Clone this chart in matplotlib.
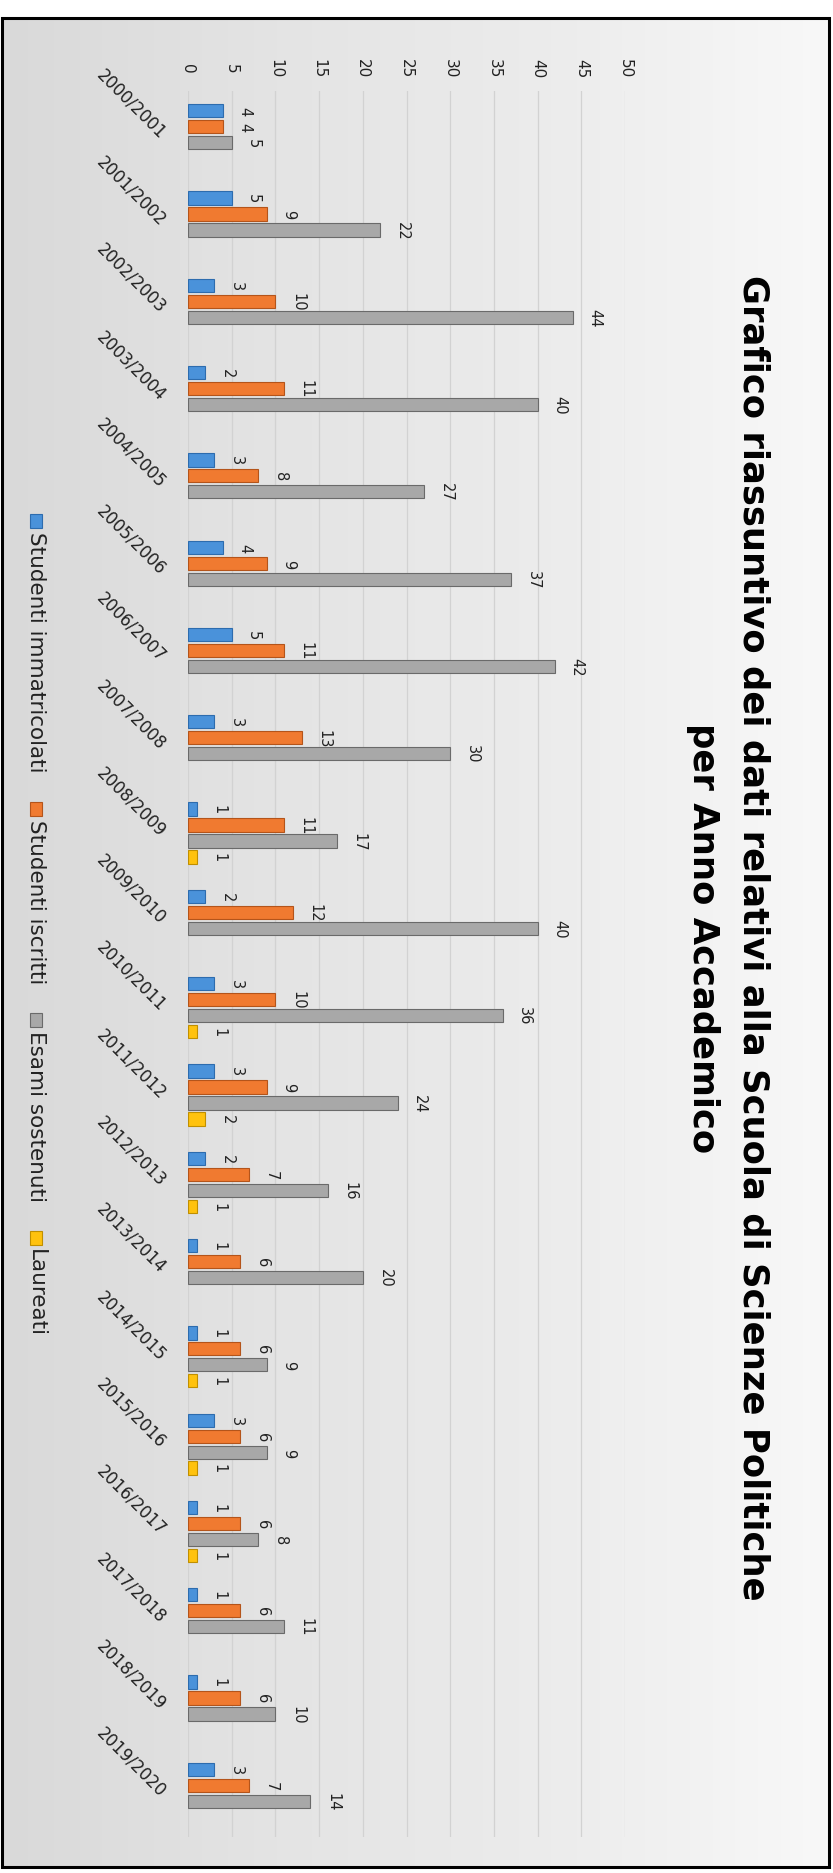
import numpy as np
import matplotlib.pyplot as plt
from matplotlib.patches import Rectangle
from matplotlib.colors import LinearSegmentedColormap

anni = ['2000/2001', '2001/2002', '2002/2003', '2003/2004', '2004/2005',
        '2005/2006', '2006/2007', '2007/2008', '2008/2009', '2009/2010',
        '2010/2011', '2011/2012', '2012/2013', '2013/2014', '2014/2015',
        '2015/2016', '2016/2017', '2017/2018', '2018/2019', '2019/2020']
immatricolati = [4, 5, 3, 2, 3, 4, 5, 3, 1, 2, 3, 3, 2, 1, 1, 3, 1, 1, 1, 3]
iscritti = [4, 9, 10, 11, 8, 9, 11, 13, 11, 12, 10, 9, 7, 6, 6, 6, 6, 6, 6, 7]
esami = [5, 22, 44, 40, 27, 37, 42, 30, 17, 40, 36, 24, 16, 20, 9, 9, 8, 11, 10, 14]
laureati = [None, None, None, None, None, None, None, None, 1, None,
            1, 2, 1, None, 1, 1, 1, None, None, None]

serie = ['Studenti immatricolati', 'Studenti iscritti', 'Esami sostenuti', 'Laureati']
colori = ['#4a92da', '#f07a30', '#a8a8a8', '#ffc20e']
bordi = ['#2d6cae', '#b4541a', '#6a6a6a', '#c08f00']

W, H = 833, 1874
fig = plt.figure(figsize=(W / 100, H / 100), dpi=100)
fig.patch.set_facecolor('white')

# sfondo sfumato dentro la cornice
bg = fig.add_axes([0.003, 0.003, 0.992, 0.986])
sfum = LinearSegmentedColormap.from_list('sfondo', ['#d9d9d9', '#e4e4e4', '#ececec', '#f8f8f8'])
bg.imshow(np.linspace(0, 1, 256).reshape(1, -1), aspect='auto', cmap=sfum, extent=[0, 1, 0, 1])
bg.axis('off')
fig.patches.append(Rectangle((0.0024, 0.0030), 0.9926, 0.9869, transform=fig.transFigure,
                             fill=False, ec='black', lw=2.2))

ax = fig.add_axes([188 / W, 1 - 1838 / H, (625 - 188) / W, (1838 - 92) / H])
ax.set_facecolor('none')

y = np.arange(len(anni))
slot = 0.183
alt = 0.152
for k, (vals, c, b) in enumerate(zip([immatricolati, iscritti, esami, laureati], colori, bordi)):
    yy = [y[i] + (k - 1.5) * slot for i, v in enumerate(vals) if v is not None]
    vv = [v for v in vals if v is not None]
    ax.barh(yy, vv, height=alt, color=c, edgecolor=b, linewidth=0.8, zorder=3)
    for yi, v in zip(yy, vv):
        ax.annotate(str(v), xy=(v, yi), xytext=(10.5, 0), textcoords='offset points',
                    rotation=-90, ha='left', va='center', fontsize=10.5, color='#222222')

ax.set_xlim(0, 50)
ax.set_ylim(len(anni) - 0.5, -0.5)
ax.set_xticks(range(0, 51, 5))
ax.xaxis.tick_top()
ax.tick_params(axis='x', length=0, pad=17, labelsize=11, labelcolor='#222222')
for t in ax.get_xticklabels():
    t.set_rotation(-90)
    t.set_va('center')
ax.set_yticks(y)
ax.set_yticklabels(anni, fontsize=12, color='#222222')
ax.tick_params(axis='y', length=0, pad=18)
for t in ax.get_yticklabels():
    t.set_rotation(-45)
    t.set_rotation_mode('anchor')
    t.set_ha('right')
    t.set_va('center')
ax.grid(axis='x', color='#d2d2d2', linewidth=0.9, zorder=0)
for s in ax.spines.values():
    s.set_visible(False)

fig.text(753 / W, 1 - 938 / H,
         'Grafico riassuntivo dei dati relativi alla Scuola di Scienze Politiche',
         rotation=-90, ha='center', va='center', fontsize=25.5, fontweight='bold')
fig.text(703 / W, 1 - 938 / H, 'per Anno Accademico',
         rotation=-90, ha='center', va='center', fontsize=25.5, fontweight='bold')

# legenda ruotata, costruita a mano
fig.canvas.draw()
r = fig.canvas.get_renderer()
ypos = 1 - 515 / H
xc = 36 / W
for nome, c, b in zip(serie, colori, bordi):
    fig.patches.append(Rectangle((xc - 6 / W, ypos - 14 / H), 12 / W, 14 / H,
                                 transform=fig.transFigure, fc=c, ec=b, lw=0.8))
    t = fig.text(xc, ypos - 17 / H, nome, rotation=-90, ha='center', va='top',
                 fontsize=15.5, color='#222222')
    bb = t.get_window_extent(r)
    ypos = bb.y0 / H - 30 / H

fig.savefig('out.png', dpi=100)
